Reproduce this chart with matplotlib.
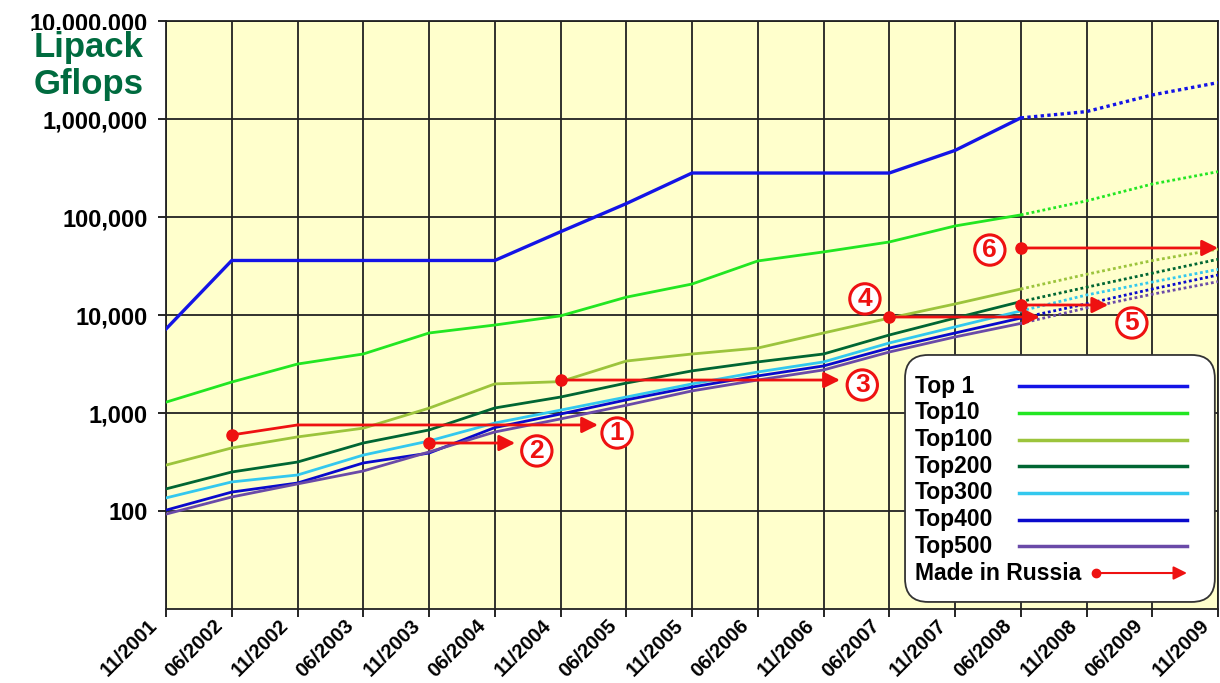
import numpy as np
import matplotlib.pyplot as plt
from matplotlib.patches import FancyBboxPatch
from matplotlib.transforms import ScaledTranslation

plt.rcParams['font.family'] = ['Liberation Sans', 'DejaVu Sans']
plt.rcParams['font.weight'] = 'bold'

# dates of the TOP500 lists
DATES = ['11/2001', '06/2002', '11/2002', '06/2003', '11/2003', '06/2004',
         '11/2004', '06/2005', '11/2005', '06/2006', '11/2006', '06/2007',
         '11/2007', '06/2008', '11/2008', '06/2009', '11/2009']
# after this list the curves are only a forecast (dotted)
LAST_MEASURED = '06/2008'

# Linpack Gflops
TOP1 = [7200, 36000, 36000, 36000, 36000, 36000, 70700, 137000, 281000,
        281000, 281000, 281000, 478000, 1026000, 1190000, 1760000, 2350000]
TOP10 = [1290, 2070, 3160, 4000, 6550, 7900, 9800, 15200, 20700, 35600,
         44000, 55600, 81000, 105000, 146000, 217000, 290000]
TOP100 = [294, 440, 570, 700, 1120, 1980, 2090, 3390, 4000, 4600, 6550,
          9300, 12950, 18400, 26000, 35900, 47000]
TOP200 = [168, 250, 316, 494, 671, 1125, 1455, 2020, 2690, 3320, 4000,
          6250, 9300, 13700, 19200, 26700, 37000]
TOP300 = [136, 198, 233, 372, 518, 790, 1070, 1455, 1980, 2620, 3320,
          5180, 7560, 11000, 16000, 21700, 29200]
TOP400 = [102, 156, 193, 309, 390, 710, 976, 1360, 1840, 2390, 3020,
          4600, 6550, 9300, 13000, 18400, 25600]
TOP500 = [93, 139, 189, 256, 400, 640, 870, 1200, 1680, 2170, 2750,
          4190, 5970, 8200, 11800, 16300, 21900]

SERIES_NAMES = ['Top 1', 'Top10', 'Top100', 'Top200', 'Top300', 'Top400', 'Top500']
SERIES = [TOP1, TOP10, TOP100, TOP200, TOP300, TOP400, TOP500]
COLORS = ['#1414E6', '#22E622', '#9CC43C', '#006633', '#33C8EE', '#0A0ACC', '#6A4AA8']

# "Made in Russia" entries: arrow path (x in list index, y in Gflops) and label spot
RU_NAMES = ['1', '2', '3', '4', '5', '6']
RU_X = [[1, 2, 6.57], [4, 5.31], [6, 10.25], [11, 13.29], [13, 14.33], [13, 16.0]]
RU_Y = [[597, 755, 755], [494, 494], [2170, 2170], [9540, 9540], [12650, 12650], [48300, 48300]]
RU_LABEL_X = [6.86, 5.64, 10.59, 10.63, 14.69, 12.53]
RU_LABEL_Y = [625, 410, 1930, 14600, 8290, 46000]

YTICKS = [100, 1000, 10000, 100000, 1000000, 10000000]

RED = '#EE1111'

fig = plt.figure(figsize=(12.2, 6.83), dpi=100)
ax = fig.add_axes([166 / 1220, 1 - 609 / 683, 1052 / 1220, 588 / 683])
ax.set_facecolor('#FFFFCC')

x = np.arange(len(DATES))
k = DATES.index(LAST_MEASURED)
for vals, c in zip(SERIES, COLORS):
    lw = 2.4 if c == COLORS[0] else 2.0
    ax.plot(x[:k + 1], vals[:k + 1], color=c, lw=lw, zorder=3)
    ax.plot(x[k:], vals[k:], color=c, lw=lw, ls=(0, (1, 1)), zorder=3)

# russian machines
for px, py, lx, ly, name in zip(RU_X, RU_Y, RU_LABEL_X, RU_LABEL_Y, RU_NAMES):
    ax.plot(px[:-1], py[:-1], color=RED, lw=2.0, zorder=4)
    ax.plot(px[0], py[0], 'o', color=RED, ms=8, zorder=4, clip_on=False)
    ax.annotate('', xy=(px[-1], py[-1]), xytext=(px[-2], py[-2]),
                arrowprops=dict(arrowstyle='-|>', color=RED, lw=2.0,
                                mutation_scale=24, shrinkA=0, shrinkB=0),
                zorder=4, annotation_clip=False)
    ax.text(lx, ly, name, ha='center', va='center', color=RED, fontsize=19,
            zorder=4, bbox=dict(boxstyle='circle,pad=0.12', fc='white', ec=RED, lw=2.2))

ax.set_yscale('log')
ax.set_ylim(10, 1e7)
ax.set_xlim(0, len(DATES) - 1)
ax.set_yticks(YTICKS)
ax.set_yticklabels([f'{v:,}' for v in YTICKS])
ax.yaxis.set_minor_locator(plt.NullLocator())
ax.set_xticks(x)
ax.set_xticklabels([])
ax.tick_params(direction='out', length=6, width=1.2, color='black')
ax.tick_params(axis='y', labelsize=17, pad=7)

# date labels, slanted, ending just left of their tick
shift = ScaledTranslation(-12 / 100, -14 / 100, fig.dpi_scale_trans)
for xi, d in zip(x, DATES):
    ax.text(xi, 0, d, transform=ax.get_xaxis_transform() + shift,
            rotation=45, rotation_mode='anchor', ha='right', va='center',
            fontsize=14.5)

ax.grid(True, color='#222222', lw=1.3)
ax.set_axisbelow(True)
for s in ax.spines.values():
    s.set_color('#222222')
    s.set_linewidth(1.3)

# legend box drawn by hand (samples on the right side of the names)
aspect = 1052 / 588
box = FancyBboxPatch((0.7025, 0.012), 0.2945, 0.42,
                     boxstyle='round,pad=0,rounding_size=0.022',
                     mutation_aspect=aspect, transform=ax.transAxes,
                     fc='white', ec='#333333', lw=1.3, zorder=5, clip_on=False)
ax.add_patch(box)
row_y = 0.379
for name, c in zip(SERIES_NAMES, COLORS):
    ax.text(0.712, row_y, name, transform=ax.transAxes, fontsize=16.5,
            va='center', ha='left', zorder=6)
    ax.plot([0.811, 0.9705], [row_y, row_y], transform=ax.transAxes,
            color=c, lw=2.5, zorder=6, clip_on=False)
    row_y -= 0.0454
ax.text(0.712, row_y, 'Made in Russia', transform=ax.transAxes, fontsize=16.5,
        va='center', ha='left', zorder=6)
ax.plot(0.884, row_y, 'o', color=RED, ms=6, transform=ax.transAxes, zorder=6)
ax.annotate('', xy=(0.9705, row_y), xytext=(0.884, row_y),
            xycoords='axes fraction', textcoords='axes fraction',
            arrowprops=dict(arrowstyle='-|>', color=RED, lw=1.5,
                            mutation_scale=20, shrinkA=0, shrinkB=0), zorder=6)

fig.text(89 / 1220, 1 - 31 / 683, 'Lipack\nGflops', ha='center', va='top',
         fontsize=25, color='#006B3F', linespacing=1.15,
         bbox=dict(fc='white', ec='none', pad=1))

fig.savefig('out.png', dpi=100)
